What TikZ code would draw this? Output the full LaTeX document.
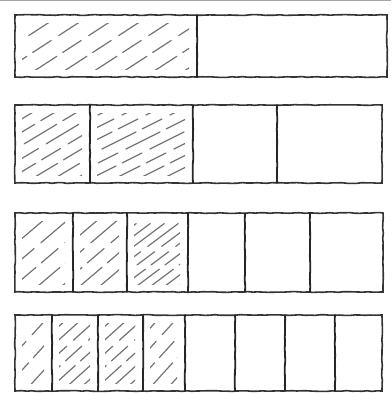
\documentclass[tikz,border=0pt]{standalone}
\usetikzlibrary{decorations.pathmorphing}
\tikzset{
  edge/.style={draw=black!80, line width=1.6pt, line cap=round,
    decorate, decoration={random steps, segment length=5pt, amplitude=0.4pt}},
  divider/.style={draw=black!85, line width=1.8pt, line cap=round,
    decorate, decoration={random steps, segment length=6pt, amplitude=0.35pt}},
  hatch/.style={draw=black!55, line width=1.2pt, line cap=round,
    dash pattern=on 38pt off 7pt on 22pt off 9pt},
}
\newcommand\hatchcell[6]{%
  \begin{scope}
    \clip (#1+7,#2+7) rectangle (#3-8,#4-9);
    \foreach \i in {0,...,45}{
      \draw[hatch] ({#1-320+\i*#6},#2) -- ++(220,{220*#5});
    }
  \end{scope}}
\begin{document}
\begin{tikzpicture}[x=1pt,y=1pt]
\pgfmathsetseed{7}
\useasboundingbox (0,0) rectangle (391,393);
% faint top line
\draw[black!35, line width=1pt] (0,392) -- (391,392);
% ---- Row 1: halves
\hatchcell{15}{316}{197}{378}{0.65}{30}
\draw[edge] (15,316) rectangle (387,378);
\draw[divider] (197,316) -- (197,378);
% ---- Row 2: quarters
\hatchcell{15}{210}{90}{288}{0.6}{22}
\hatchcell{90}{210}{193}{288}{0.5}{24}
\draw[edge] (15,210) rectangle (382,288);
\foreach \x in {90,193,277} \draw[divider] (\x,210) -- (\x,288);
% ---- Row 3: sixths
\hatchcell{15}{101}{73}{180}{0.85}{24}
\hatchcell{73}{101}{127}{180}{0.85}{20}
\hatchcell{127}{101}{188}{180}{0.75}{14}
\draw[edge] (15,101) rectangle (383,180);
\foreach \x in {73,127,188,245,310} \draw[divider] (\x,101) -- (\x,180);
% ---- Row 4: eighths
\hatchcell{15}{2}{52}{78}{1.1}{22}
\hatchcell{52}{2}{98}{78}{0.9}{15}
\hatchcell{98}{2}{143}{78}{0.9}{15}
\hatchcell{143}{2}{185}{78}{1.1}{18}
\draw[edge] (15,2) rectangle (382,78);
\foreach \x in {52,98,143,185,235,285,335} \draw[divider] (\x,2) -- (\x,78);
\end{tikzpicture}
\end{document}
